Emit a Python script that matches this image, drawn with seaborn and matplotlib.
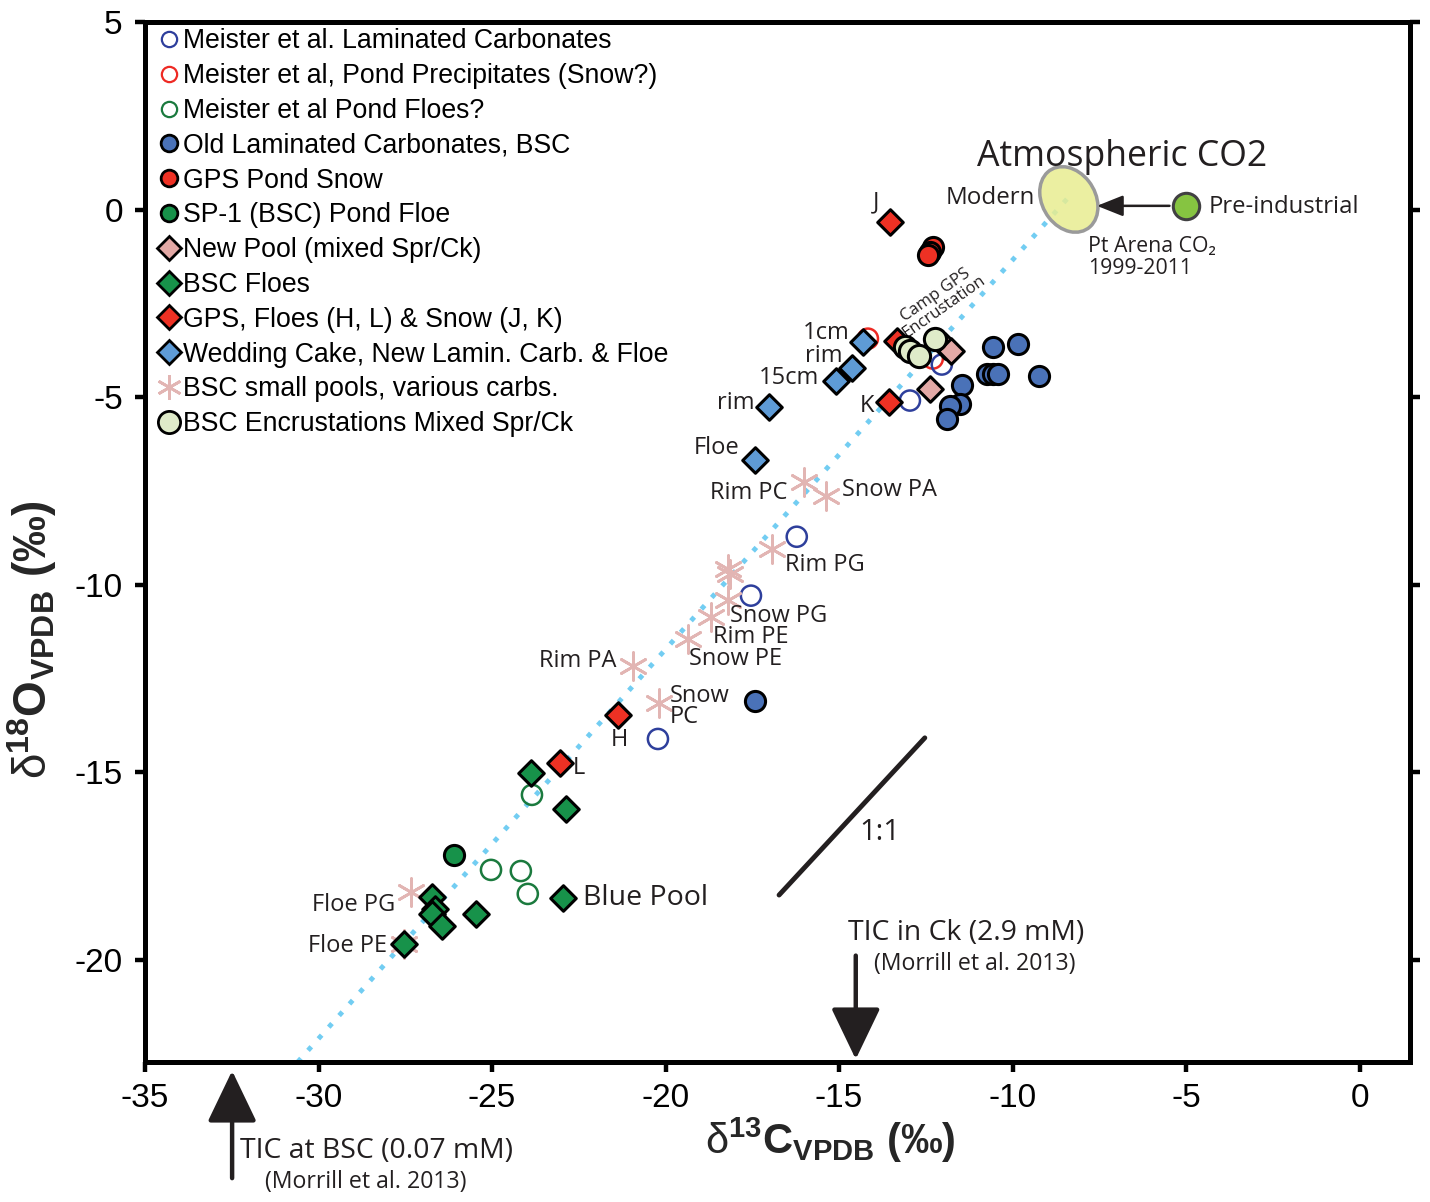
import numpy as np
import pandas as pd
import seaborn as sns
import matplotlib
matplotlib.use("Agg")
import matplotlib.pyplot as plt
from matplotlib.lines import Line2D
from matplotlib.patches import Ellipse

# ---------------- data (delta13C, delta18O) ----------------
meister_lam_x = [-12.96, -12.04, -16.22, -17.54, -20.22]
meister_lam_y = [-5.09, -4.13, -8.72, -10.29, -14.11]

meister_snow_x = [-12.30, -14.17]
meister_snow_y = [-3.97, -3.44]

meister_floe_x = [-23.85, -25.03, -24.17, -23.97]
meister_floe_y = [-15.60, -17.60, -17.63, -18.24]

old_lam_x = [-10.56, -9.84, -9.23, -11.47, -10.75, -10.56, -10.42, -11.52, -11.81, -11.90, -17.43]
old_lam_y = [-3.67, -3.57, -4.43, -4.67, -4.38, -4.38, -4.38, -5.18, -5.23, -5.58, -13.09]

gps_snow_x = [-12.30, -12.38, -12.45]
gps_snow_y = [-1.00, -1.12, -1.22]

sp1_floe_x = [-26.10]
sp1_floe_y = [-17.20]

new_pool_x = [-11.95, -11.79, -12.38]
new_pool_y = [-3.63, -3.76, -4.78]

bsc_floes_x = [-23.88, -22.87, -22.96, -25.46, -26.74, -26.65, -26.73, -26.45, -27.54]
bsc_floes_y = [-15.01, -15.97, -18.35, -18.77, -18.31, -18.64, -18.77, -19.09, -19.58]

gps_dia_x = [-13.54, -13.33, -13.57, -21.37, -23.04]
gps_dia_y = [-0.32, -3.49, -5.12, -13.47, -14.75]

wedding_x = [-14.31, -14.63, -15.09, -17.02, -17.43]
wedding_y = [-3.52, -4.21, -4.56, -5.25, -6.67]

pools_x = [-16.01, -15.38, -16.94, -18.20, -18.15, -18.21, -18.70, -19.35, -20.93, -20.18, -27.34, -27.54]
pools_y = [-7.27, -7.63, -9.05, -9.58, -9.71, -10.41, -10.87, -11.45, -12.16, -13.14, -18.19, -19.58]

encrust_x = [-13.10, -12.24, -12.96, -12.69]
encrust_y = [-3.65, -3.45, -3.76, -3.89]

modern_co2 = (-8.38, 0.27)
preind_co2 = (-5.0, 0.10)

trend_x = [-30.6, -8.35]
trend_y = [-22.72, 0.37]

one_to_one_x = [-16.73, -12.53]
one_to_one_y = [-18.27, -14.08]

xticks = [-35, -30, -25, -20, -15, -10, -5, 0]
yticks = [5, 0, -5, -10, -15, -20]

# point labels: (text, x, y, ha)
point_labels = [
    ("J", -13.94, 0.19, "center"),
    ("1cm", -14.69, -3.28, "right"),
    ("rim", -14.89, -3.89, "right"),
    ("15cm", -15.58, -4.48, "right"),
    ("rim", -17.43, -5.15, "right"),
    ("Floe", -17.86, -6.35, "right"),
    ("K", -14.0, -5.23, "right"),
    ("Rim PC", -16.48, -7.55, "right"),
    ("Snow PA", -14.92, -7.47, "left"),
    ("Rim PG", -16.56, -9.47, "left"),
    ("Snow PG", -18.15, -10.83, "left"),
    ("Rim PE", -18.64, -11.39, "left"),
    ("Snow PE", -19.33, -11.97, "left"),
    ("Rim PA", -21.40, -12.03, "right"),
    ("Snow\nPC", -19.88, -13.24, "left"),
    ("H", -21.34, -14.13, "center"),
    ("L", -22.67, -14.88, "left"),
    ("Floe PG", -27.80, -18.53, "right"),
    ("Floe PE", -28.03, -19.63, "right"),
]

# ---------------- styling ----------------
sns.set_style("white")
plt.rcParams["font.family"] = ["Liberation Sans", "DejaVu Sans"]
plt.rcParams["mathtext.fontset"] = "custom"
plt.rcParams["mathtext.rm"] = "Liberation Sans"
plt.rcParams["mathtext.bf"] = "Liberation Sans:bold"
plt.rcParams["mathtext.it"] = "Liberation Sans:italic"
ANN = ["Open Sans", "DejaVu Sans"]
TXT = "#231f20"

c_blue_open = "#2e3f9c"
c_red_open = "#ee2a24"
c_green_open = "#1b7a3e"
c_blue = "#4a72b8"
c_red = "#ee3124"
c_green = "#17924a"
c_pink = "#e3a9a6"
c_lblue = "#5e9bd6"
c_ast = "#e2b5b3"
c_enc = "#dfebc9"

fig = plt.figure(figsize=(14.3, 12.02), dpi=100)
ax = fig.add_axes([145 / 1430, 1 - 1062 / 1202, 1265 / 1430, 1040 / 1202])

# trend line
sns.lineplot(x=trend_x, y=trend_y, ax=ax, color="#72cdf2", lw=3.5,
             linestyle=(0, (1, 2.2)), zorder=1)

# 1:1 line
sns.lineplot(x=one_to_one_x, y=one_to_one_y, ax=ax, color=TXT, lw=3.5, zorder=2)

# CO2 ellipse
ell = Ellipse(modern_co2, width=1.9, height=1.5, angle=-50,
              facecolor=(0.91, 0.93, 0.57, 0.85), edgecolor="#9a9a9a", lw=2.5, zorder=3)
ax.add_patch(ell)

S_C = 14.5 ** 2
S_D = 13 ** 2
LW = 2.2

# open circles
ax.scatter(meister_snow_x, meister_snow_y, s=S_C, marker="o", facecolors="none",
           edgecolors=c_red_open, linewidths=1.8, zorder=4)
ax.scatter(meister_lam_x, meister_lam_y, s=S_C, marker="o", facecolors="none",
           edgecolors=c_blue_open, linewidths=1.8, zorder=4)
ax.scatter(meister_floe_x, meister_floe_y, s=S_C, marker="o", facecolors="none",
           edgecolors=c_green_open, linewidths=1.8, zorder=4)

# asterisks
sns.scatterplot(x=pools_x, y=pools_y, ax=ax, marker=(6, 2, 0), s=20 ** 2,
                color=c_ast, linewidth=2.0, zorder=5)

# filled circles
sns.scatterplot(x=old_lam_x, y=old_lam_y, ax=ax, marker="o", s=S_C, color=c_blue,
                edgecolor="black", linewidth=LW, zorder=6)
sns.scatterplot(x=gps_snow_x, y=gps_snow_y, ax=ax, marker="o", s=S_C, color=c_red,
                edgecolor="black", linewidth=LW, zorder=6)
sns.scatterplot(x=sp1_floe_x, y=sp1_floe_y, ax=ax, marker="o", s=S_C, color=c_green,
                edgecolor="black", linewidth=LW, zorder=6)

# diamonds
sns.scatterplot(x=new_pool_x, y=new_pool_y, ax=ax, marker="D", s=S_D, color=c_pink,
                edgecolor="black", linewidth=LW, zorder=7)
sns.scatterplot(x=bsc_floes_x, y=bsc_floes_y, ax=ax, marker="D", s=S_D, color=c_green,
                edgecolor="black", linewidth=LW, zorder=7)
sns.scatterplot(x=gps_dia_x, y=gps_dia_y, ax=ax, marker="D", s=S_D, color=c_red,
                edgecolor="black", linewidth=LW, zorder=7)
sns.scatterplot(x=wedding_x, y=wedding_y, ax=ax, marker="D", s=S_D, color=c_lblue,
                edgecolor="black", linewidth=LW, zorder=7)

# encrustations
sns.scatterplot(x=encrust_x, y=encrust_y, ax=ax, marker="o", s=16 ** 2, color=c_enc,
                edgecolor="black", linewidth=LW, zorder=8)

# pre-industrial CO2
sns.scatterplot(x=[preind_co2[0]], y=[preind_co2[1]], ax=ax, marker="o", s=19 ** 2,
                color="#86c441", edgecolor="#414042", linewidth=2.2, zorder=8)
ax.annotate("", xy=(-7.65, preind_co2[1]), xytext=(preind_co2[0] - 0.4, preind_co2[1]),
            arrowprops=dict(arrowstyle="-|>,head_length=1.0,head_width=0.4",
                            mutation_scale=16, lw=1.8, color=TXT), zorder=9)

# ---------------- axes ----------------
ax.set_xlim(-35, 1.45)
ax.set_ylim(-22.72, 5.0)
ax.set_xticks(xticks)
ax.set_yticks(yticks)
ax.set_xticklabels([str(v) for v in xticks])
ax.set_yticklabels([str(v) for v in yticks])
for sp in ax.spines.values():
    sp.set_linewidth(3.6)
    sp.set_color("black")
ax.tick_params(axis="x", bottom=True, top=False, direction="out", length=7, width=3.2,
               labelsize=24, pad=8, colors="black")
ax.tick_params(axis="y", left=True, right=True, labelright=False, direction="out",
               length=7, width=3.2, labelsize=24, pad=9, colors="black")

ax.set_xlabel(r"$\mathrm{\delta}^{\mathbf{13}}$C$_{\mathbf{VPDB}}$ (‰)", fontsize=30,
              fontweight="bold")
ax.xaxis.set_label_coords(0.5415, -0.052)
ax.set_ylabel(r"$\mathrm{\delta}^{\mathbf{18}}$O$_{\mathbf{VPDB}}$ (‰)", fontsize=33,
              fontweight="bold")
ax.yaxis.set_label_coords(-0.068, 0.406)

# ---------------- annotations ----------------
for t, x, y, ha in point_labels:
    ax.text(x, y, t, ha=ha, va="center", fontsize=17, family=ANN, color=TXT, zorder=10,
            linespacing=0.85)

ax.text(-22.38, -18.35, "Blue Pool", ha="left", va="center", fontsize=20.5, family=ANN,
        color=TXT)
ax.text(-12.1, -2.43, "Camp GPS\nEncrustation", ha="center", va="center", fontsize=12,
        family=ANN, color=TXT, rotation=35, linespacing=0.85)
ax.text(-11.03, 1.39, "Atmospheric CO2", ha="left", va="center", fontsize=25.7,
        family=ANN, color=TXT)
ax.text(-9.36, 0.32, "Modern", ha="right", va="center", fontsize=17.4, family=ANN, color=TXT)
ax.text(-4.35, 0.08, "Pre-industrial", ha="left", va="center", fontsize=17.2, family=ANN,
        color=TXT)
ax.text(-7.83, -0.99, "Pt Arena CO₂", ha="left", va="center", fontsize=15.3, family=ANN,
        color=TXT)
ax.text(-7.83, -1.57, "1999-2011", ha="left", va="center", fontsize=15.3, family=ANN,
        color=TXT)
ax.text(-13.82, -16.59, "1:1", ha="center", va="center", fontsize=21, family=ANN, color=TXT)

# TIC arrows
ax.annotate("", xy=(-14.52, -22.72), xytext=(-14.52, -19.81),
            arrowprops=dict(arrowstyle="-|>,head_length=1.0,head_width=0.48",
                            mutation_scale=32, lw=3.2, color=TXT), annotation_clip=False)
ax.text(-14.75, -19.28, "TIC in Ck (2.9 mM)", ha="left", va="center", fontsize=20.4,
        family=ANN, color=TXT)
ax.text(-14.0, -20.1, "(Morrill et al. 2013)", ha="left", va="center", fontsize=16.7,
        family=ANN, color=TXT)
ax.annotate("", xy=(-32.49, -22.88), xytext=(-32.49, -25.89),
            arrowprops=dict(arrowstyle="-|>,head_length=1.0,head_width=0.48",
                            mutation_scale=32, lw=3.2, color=TXT), annotation_clip=False)
ax.text(-32.26, -25.09, "TIC at BSC (0.07 mM)", ha="left", va="center", fontsize=20.4,
        family=ANN, color=TXT, clip_on=False)
ax.text(-31.54, -25.92, "(Morrill et al. 2013)", ha="left", va="center", fontsize=16.7,
        family=ANN, color=TXT, clip_on=False)

# ---------------- legend ----------------
def h_open(c):
    return Line2D([], [], ls="none", marker="o", mfc="none", mec=c, mew=1.6, ms=11)

def h_fill(c, m="o", ms=12, mec="black"):
    return Line2D([], [], ls="none", marker=m, mfc=c, mec=mec, mew=2.0, ms=ms)

handles = [
    h_open(c_blue_open), h_open(c_red_open), h_open(c_green_open),
    h_fill(c_blue), h_fill(c_red), h_fill(c_green),
    h_fill(c_pink, "D", 12), h_fill(c_green, "D", 12), h_fill(c_red, "D", 12),
    h_fill(c_lblue, "D", 12),
    Line2D([], [], ls="none", marker=(6, 2, 0), color=c_ast, mew=2.0, ms=18),
    h_fill(c_enc, "o", 16),
]
labels = [
    "Meister et al. Laminated Carbonates",
    "Meister et al, Pond Precipitates (Snow?)",
    "Meister et al Pond Floes?",
    "Old Laminated Carbonates, BSC",
    "GPS Pond Snow",
    "SP-1 (BSC) Pond Floe",
    "New Pool (mixed Spr/Ck)",
    "BSC Floes",
    "GPS, Floes (H, L) & Snow (J, K)",
    "Wedding Cake, New Lamin. Carb. & Floe",
    "BSC small pools, various carbs.",
    "BSC Encrustations Mixed Spr/Ck",
]
leg = ax.legend(handles, labels, loc="upper left", bbox_to_anchor=(0.006, 0.999),
                frameon=False, fontsize=19.2, handlelength=0.8, handletextpad=0.14,
                labelspacing=0.33, borderpad=0.2, borderaxespad=0)
for t in leg.get_texts():
    t.set_color("black")

fig.savefig("out.png", dpi=100, facecolor="white")
